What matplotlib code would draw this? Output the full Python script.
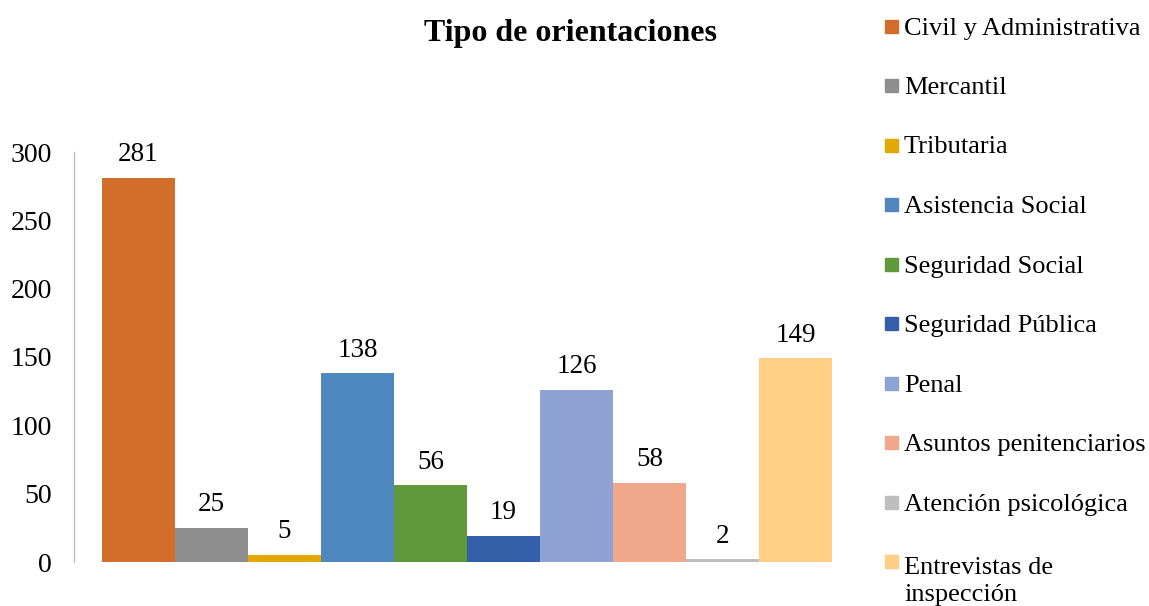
import matplotlib.pyplot as plt
from matplotlib.patches import Rectangle

categories = ['Civil y Administrativa', 'Mercantil', 'Tributaria', 'Asistencia Social',
              'Seguridad Social', 'Seguridad Pública', 'Penal', 'Asuntos penitenciarios',
              'Atención psicológica', 'Entrevistas de\ninspección']
values = [281, 25, 5, 138, 56, 19, 126, 58, 2, 149]
colors = ['#D36D2B', '#8E8E8E', '#E3A805', '#4E88BE', '#5F993C',
          '#3460A9', '#8FA2D4', '#EFA88A', '#BEBEBE', '#FECF84']

plt.rcParams['font.family'] = ['Liberation Serif', 'DejaVu Serif']

W, H = 1149, 606
fig = plt.figure(figsize=(W / 100, H / 100), dpi=100)
ax = fig.add_axes([74 / W, 1 - 562 / H, (860 - 74) / W, (562 - 152) / H])

x = list(range(len(values)))
bars = ax.bar(x, values, width=1.0, color=colors)

for xi, v in zip(x, values):
    ax.annotate(str(v), (xi, v), xytext=(0, 12), textcoords='offset points',
                ha='center', va='baseline', fontsize=19.5)

ax.set_ylim(0, 300)
ax.set_xlim(-0.88, 9.88)
ax.set_yticks([0, 50, 100, 150, 200, 250, 300])
ax.tick_params(axis='y', length=0, pad=16, labelsize=20)
ax.set_xticks([])
for s in ['top', 'right', 'bottom']:
    ax.spines[s].set_visible(False)
ax.spines['left'].set_color('#BFBFBF')
ax.spines['left'].set_linewidth(1.0)

fig.text(570 / W, 1 - 33 / H, 'Tipo de orientaciones', ha='center', va='center',
         fontsize=23, fontweight='bold')

# legend drawn by hand so the two-line entry keeps its marker on the first line
for i, (cat, col) in enumerate(zip(categories, colors)):
    yc = 26 + 59.5 * i
    nlines = cat.count('\n')
    fig.patches.append(Rectangle((885 / W, 1 - (yc + 6.5) / H), 13 / W, 13 / H,
                                 transform=fig.transFigure, color=col))
    fig.text(904 / W, 1 - (yc + 8.5 + 31 * nlines) / H, cat, ha='left', va='baseline',
             fontsize=19, linespacing=1.3)

fig.savefig('out.png', dpi=100)
